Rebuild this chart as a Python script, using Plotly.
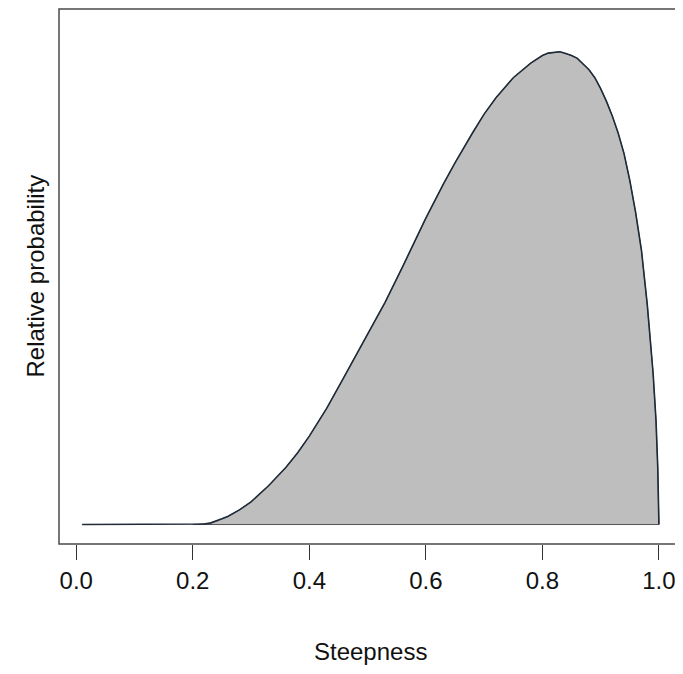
import plotly.graph_objects as go

# Data (relative probability, peak normalised to 1)
steepness = [0.01, 0.05, 0.10, 0.15, 0.20, 0.22, 0.23, 0.24, 0.25, 0.26, 0.27,
             0.28, 0.30, 0.33, 0.36, 0.38, 0.40, 0.43, 0.46, 0.48, 0.50, 0.53,
             0.56, 0.60, 0.63, 0.65, 0.68, 0.70, 0.72, 0.75, 0.78, 0.80, 0.81,
             0.82, 0.83, 0.84, 0.85, 0.86, 0.87, 0.88, 0.89, 0.90, 0.91, 0.92,
             0.93, 0.94, 0.95, 0.96, 0.97, 0.98, 0.99, 0.995, 0.998, 1.0]
rel_prob = [0.0, 0.0, 0.0, 0.0, 0.0, 0.001, 0.003, 0.007, 0.012, 0.017, 0.024,
            0.031, 0.048, 0.082, 0.121, 0.152, 0.187, 0.246, 0.313, 0.357, 0.404, 0.470,
            0.545, 0.648, 0.720, 0.765, 0.828, 0.868, 0.902, 0.945, 0.976, 0.992, 0.997,
            0.999, 1.000, 0.996, 0.992, 0.986, 0.975, 0.962, 0.945, 0.922, 0.895, 0.864,
            0.828, 0.785, 0.728, 0.660, 0.580, 0.465, 0.320, 0.220, 0.120, 0.0]
tick_vals = [0.0, 0.2, 0.4, 0.6, 0.8, 1.0]
tick_text = ["0.0", "0.2", "0.4", "0.6", "0.8", "1.0"]

# Polygon (filled region) built from the data
start = max(i for i, v in enumerate(rel_prob) if v == 0 and steepness[i] < 0.5)
poly_x = steepness[start:] + [steepness[-1], steepness[start]]
poly_y = rel_prob[start:] + [0.0, 0.0]

# page body has an 8px margin; compensate so the chart lands where the reference is
W, H = 675, 658
mt, mb, ml, mr = 1, 122, 51, 1

fig = go.Figure()
fig.add_trace(go.Scatter(x=poly_x, y=poly_y, mode="lines", fill="toself",
                         fillcolor="#BEBEBE", line=dict(color="#555555", width=1),
                         hoverinfo="skip", showlegend=False))
fig.add_trace(go.Scatter(x=steepness, y=rel_prob, mode="lines",
                         line=dict(color="#1f2b38", width=1.6),
                         showlegend=False))

font = dict(family="Liberation Sans, Arial, sans-serif", size=24, color="#111111")

fig.update_layout(
    width=W, height=H,
    margin=dict(l=ml, r=mr, t=mt, b=mb, pad=0),
    paper_bgcolor="white", plot_bgcolor="white",
    font=font,
    xaxis=dict(range=[-0.0296, 1.0396], tickvals=tick_vals, ticktext=tick_text,
               ticks="outside", ticklen=15, tickwidth=1.3, tickcolor="#333333",
               showline=False, showgrid=False, zeroline=False, tickfont=font),
    yaxis=dict(range=[-0.0412, 1.0903],
               showticklabels=False, ticks="", showline=False,
               showgrid=False, zeroline=False),
    shapes=[
        dict(type="rect", xref="paper", yref="paper", x0=0, x1=1, y0=0, y1=1,
             line=dict(color="#4a4a4a", width=1.5), layer="above"),
    ],
    annotations=[
        dict(text="Steepness", xref="paper", yref="paper", x=0.5, y=0,
             yshift=-107, showarrow=False, font=font, xanchor="center", yanchor="middle"),
        dict(text="Relative probability", xref="paper", yref="paper", x=0, y=0.5,
             xshift=-24, textangle=-90, showarrow=False, font=font,
             xanchor="center", yanchor="middle"),
    ],
)

fig.write_html("out.html")
